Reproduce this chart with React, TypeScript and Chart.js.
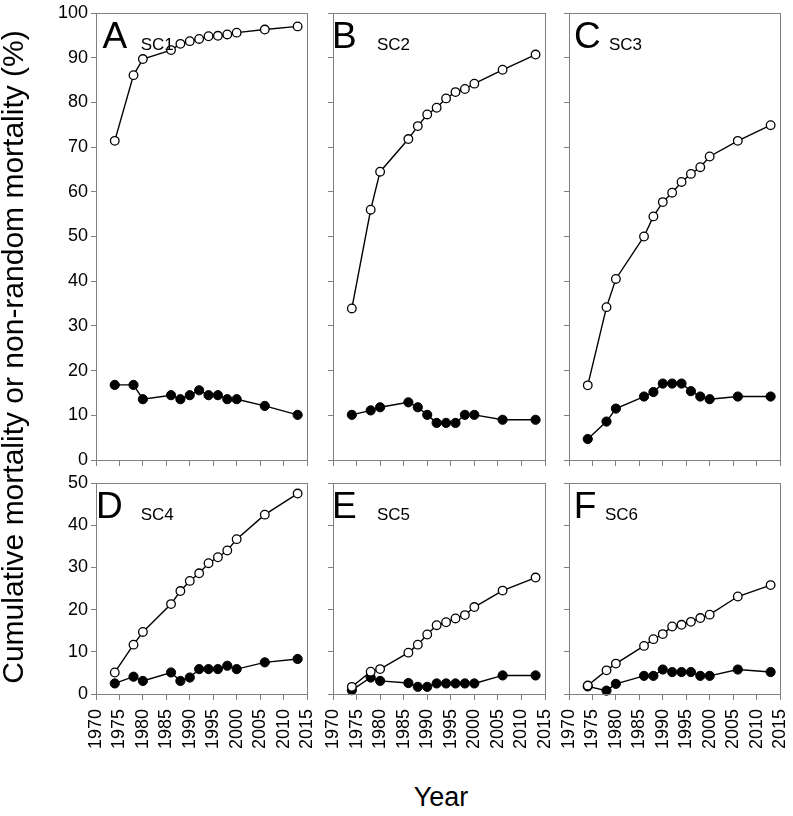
import React, { useEffect, useRef } from 'react';
import { Chart, registerables } from 'chart.js';

Chart.register(...registerables);

// ---------------- data ----------------
const YEARS = [1974, 1978, 1980, 1986, 1988, 1990, 1992, 1994, 1996, 1998, 2000, 2006, 2013];

const SC1_CUMULATIVE = [71.4, 86.1, 89.7, 91.7, 93.1, 93.7, 94.2, 94.8, 94.9, 95.2, 95.6, 96.3, 97.0];
const SC1_NONRANDOM = [16.8, 16.8, 13.6, 14.5, 13.6, 14.5, 15.6, 14.5, 14.5, 13.6, 13.6, 12.1, 10.1];
const SC2_CUMULATIVE = [33.9, 56.0, 64.5, 71.8, 74.7, 77.3, 78.8, 80.9, 82.3, 83.0, 84.2, 87.3, 90.7];
const SC2_NONRANDOM = [10.1, 11.1, 11.8, 12.9, 11.8, 10.1, 8.3, 8.3, 8.3, 10.1, 10.1, 9.0, 9.0];
const SC3_CUMULATIVE = [16.7, 34.2, 40.5, 50.0, 54.5, 57.7, 59.8, 62.2, 64.0, 65.5, 67.9, 71.4, 74.9];
const SC3_NONRANDOM = [4.7, 8.6, 11.5, 14.2, 15.2, 17.1, 17.1, 17.1, 15.4, 14.2, 13.6, 14.2, 14.2];
const SC4_CUMULATIVE = [5.1, 11.7, 14.7, 21.3, 24.4, 26.8, 28.6, 31.0, 32.4, 34.0, 36.7, 42.5, 47.5];
const SC4_NONRANDOM = [2.5, 4.1, 3.1, 5.1, 3.1, 3.9, 5.9, 5.9, 5.9, 6.7, 5.9, 7.5, 8.3];
const SC5_CUMULATIVE = [1.7, 5.3, 5.9, 9.8, 11.7, 14.1, 16.3, 17.0, 17.9, 18.7, 20.6, 24.5, 27.6];
const SC5_NONRANDOM = [0.9, 3.9, 3.1, 2.6, 1.7, 1.7, 2.5, 2.5, 2.5, 2.5, 2.5, 4.4, 4.4];
const SC6_CUMULATIVE = [2.0, 5.6, 7.2, 11.4, 13.0, 14.2, 16.0, 16.4, 17.1, 18.0, 18.8, 23.1, 25.8];
const SC6_NONRANDOM = [1.8, 0.8, 2.4, 4.3, 4.3, 5.8, 5.2, 5.2, 5.2, 4.3, 4.3, 5.8, 5.2];

const PANEL_LETTERS = ['A', 'B', 'C', 'D', 'E', 'F'];
const PANEL_NAMES = ['SC1', 'SC2', 'SC3', 'SC4', 'SC5', 'SC6'];
const X_MIN = 1970;
const X_MAX = 2015;
const X_STEP = 5;
const Y_MAX_TOP = 100;
const Y_MAX_BOTTOM = 50;
const Y_STEP = 10;
const Y_TITLE = 'Cumulative mortality or non-random mortality (%)';
const X_TITLE = 'Year';

const CUMULATIVE = [SC1_CUMULATIVE, SC2_CUMULATIVE, SC3_CUMULATIVE, SC4_CUMULATIVE, SC5_CUMULATIVE, SC6_CUMULATIVE];
const NONRANDOM = [SC1_NONRANDOM, SC2_NONRANDOM, SC3_NONRANDOM, SC4_NONRANDOM, SC5_NONRANDOM, SC6_NONRANDOM];

// ---------------- layout ----------------
const FONT = '"Liberation Sans", Arial, Helvetica, sans-serif';
const AXIS_COLOR = '#808080';
const COL_LEFT = [96, 333, 569];
const COL_WIDTH = [211, 212, 211];
const ROW_TOP = [13, 483];
const ROW_HEIGHT = [447, 211];
const PAD_TOP = 10;
const PAD_RIGHT = 8;
const LETTER_DX = [6.5, -1, 5, 0, -1, 4.7];
const NAME_DX = [44.7, 44, 40, 44.7, 44, 36];
const LETTER_SIZE = 37;
const NAME_SIZE = 17;

const framePlugin = {
  id: 'frame',
  afterDraw(chart: any) {
    const { ctx, chartArea } = chart;
    ctx.save();
    ctx.strokeStyle = AXIS_COLOR;
    ctx.lineWidth = 1;
    ctx.strokeRect(
      Math.round(chartArea.left) + 0.5,
      Math.round(chartArea.top) + 0.5,
      Math.round(chartArea.right - chartArea.left),
      Math.round(chartArea.bottom - chartArea.top)
    );
    ctx.restore();
  },
};

function Panel({ index }: { index: number }) {
  const ref = useRef<HTMLCanvasElement | null>(null);
  const col = index % 3;
  const row = Math.floor(index / 3);
  const showYLabels = col === 0;
  const showXLabels = row === 1;
  const yAxisW = showYLabels ? COL_LEFT[0] : 10;
  const xAxisH = showXLabels ? 60 : 10;
  const plotLeft = COL_LEFT[col];
  const plotTop = ROW_TOP[row];
  const w = yAxisW + COL_WIDTH[col] + PAD_RIGHT;
  const h = PAD_TOP + ROW_HEIGHT[row] + xAxisH;
  const left = plotLeft - yAxisW;
  const top = plotTop - PAD_TOP;

  useEffect(() => {
    const cum = CUMULATIVE[index];
    const non = NONRANDOM[index];
    const chart = new Chart(ref.current as HTMLCanvasElement, {
      type: 'line',
      data: {
        datasets: [
          {
            label: 'Cumulative mortality',
            data: YEARS.map((x, i) => ({ x, y: cum[i] })),
            borderColor: '#000',
            borderWidth: 1.4,
            pointRadius: 4.3,
            pointBorderWidth: 1.3,
            pointBackgroundColor: '#fff',
            pointBorderColor: '#000',
            tension: 0,
            fill: false,
            clip: false as any,
          },
          {
            label: 'Non-random mortality',
            data: YEARS.map((x, i) => ({ x, y: non[i] })),
            borderColor: '#000',
            borderWidth: 1.4,
            pointRadius: 4.6,
            pointBorderWidth: 1,
            pointBackgroundColor: '#000',
            pointBorderColor: '#000',
            tension: 0,
            fill: false,
            clip: false as any,
          },
        ],
      },
      options: {
        animation: false,
        responsive: false,
        devicePixelRatio: 1,
        events: [],
        layout: { padding: { top: PAD_TOP, right: PAD_RIGHT, left: 0, bottom: 0 } },
        plugins: { legend: { display: false }, tooltip: { enabled: false }, title: { display: false } },
        scales: {
          x: {
            type: 'linear',
            min: X_MIN,
            max: X_MAX,
            afterFit: (s: any) => {
              s.height = xAxisH;
              s.paddingLeft = 0;
              s.paddingRight = 0;
              s.paddingTop = 0;
              s.paddingBottom = 0;
            },
            afterBuildTicks: (s: any) => {
              const t = [];
              for (let v = X_MIN; v <= X_MAX; v += X_STEP) t.push({ value: v });
              s.ticks = t;
            },
            ticks: {
              display: showXLabels,
              autoSkip: false,
              minRotation: 90,
              maxRotation: 90,
              padding: 9,
              color: '#000',
              font: { family: FONT, size: 18 },
              callback: (v: any) => String(v),
            },
            grid: { display: true, drawOnChartArea: false, drawTicks: true, tickLength: 6, color: AXIS_COLOR },
            border: { display: true, color: AXIS_COLOR, width: 1 },
          },
          y: {
            type: 'linear',
            min: 0,
            max: row === 0 ? Y_MAX_TOP : Y_MAX_BOTTOM,
            afterFit: (s: any) => {
              s.width = yAxisW;
              s.paddingLeft = 0;
              s.paddingRight = 0;
              s.paddingTop = 0;
              s.paddingBottom = 0;
            },
            ticks: {
              display: showYLabels,
              stepSize: Y_STEP,
              padding: 3,
              color: '#000',
              font: { family: FONT, size: 18 },
              callback: (v: any) => String(v),
            },
            grid: { display: true, drawOnChartArea: false, drawTicks: true, tickLength: 5, color: AXIS_COLOR },
            border: { display: true, color: AXIS_COLOR, width: 1 },
          },
        },
      },
      plugins: [framePlugin],
    } as any);
    return () => chart.destroy();
  }, []);

  const letterTop = plotTop + 35 - 0.8465 * LETTER_SIZE;
  const nameTop = plotTop + 37 - 0.8465 * NAME_SIZE;

  return (
    <>
      <canvas
        ref={ref}
        width={w}
        height={h}
        style={{ position: 'absolute', left, top, width: w, height: h }}
      />
      <div
        style={{
          position: 'absolute',
          left: plotLeft + LETTER_DX[index],
          top: letterTop,
          fontFamily: FONT,
          fontSize: LETTER_SIZE,
          lineHeight: `${LETTER_SIZE}px`,
          color: '#000',
          whiteSpace: 'nowrap',
        }}
      >
        {PANEL_LETTERS[index]}
      </div>
      <div
        style={{
          position: 'absolute',
          left: plotLeft + NAME_DX[index],
          top: nameTop,
          fontFamily: FONT,
          fontSize: NAME_SIZE,
          lineHeight: `${NAME_SIZE}px`,
          color: '#000',
          whiteSpace: 'nowrap',
        }}
      >
        {PANEL_NAMES[index]}
      </div>
    </>
  );
}

export default function App() {
  const yTitleSize = 30;
  const yTitleCx = 23 - 0.347 * yTitleSize;
  const yTitleCy = 357;
  const xTitleSize = 27;
  return (
    <div style={{ position: 'absolute', left: 0, top: 0, width: 793, height: 816, background: '#fff', overflow: 'hidden' }}>
      {[0, 1, 2, 3, 4, 5].map((i) => (
        <Panel key={i} index={i} />
      ))}
      <div
        style={{
          position: 'absolute',
          left: yTitleCx - 400,
          top: yTitleCy - yTitleSize / 2,
          width: 800,
          height: yTitleSize,
          textAlign: 'center',
          fontFamily: FONT,
          fontSize: yTitleSize,
          lineHeight: `${yTitleSize}px`,
          transform: 'rotate(-90deg)',
          transformOrigin: '50% 50%',
          whiteSpace: 'nowrap',
          color: '#000',
        }}
      >
        {Y_TITLE}
      </div>
      <div
        style={{
          position: 'absolute',
          left: 441 - 100,
          top: 806.7 - 0.8465 * xTitleSize,
          width: 200,
          textAlign: 'center',
          fontFamily: FONT,
          fontSize: xTitleSize,
          lineHeight: `${xTitleSize}px`,
          color: '#000',
        }}
      >
        {X_TITLE}
      </div>
    </div>
  );
}
